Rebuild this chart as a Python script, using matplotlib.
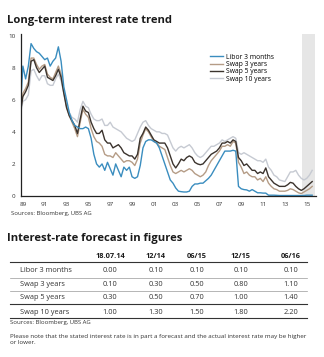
import numpy as np
import matplotlib
matplotlib.use("Agg")
import matplotlib.pyplot as plt
from matplotlib.lines import Line2D

plt.rcParams['font.family'] = ['Open Sans', 'DejaVu Sans']

# quarterly grid, 1988.75 .. 2015.5
years = np.arange(1988.75, 2015.51, 0.25)

libor_3m = [5.2,
    8.1, 7.3, 8.1, 9.5,   9.2, 9.0, 8.9, 8.7,   8.5, 8.6, 8.1, 8.4,   8.6, 9.3, 8.4, 6.8,
    6.0, 5.2, 4.7, 4.4,   4.3, 4.2, 4.2, 4.3,   4.2, 3.6, 2.6, 2.0,   1.8, 2.0, 1.6, 2.1,
    1.7, 1.3, 2.0, 1.6,   1.2, 1.8, 1.6, 1.8,   1.2, 1.1, 1.2, 1.9,   3.0, 3.4, 3.5, 3.5,
    3.4, 3.3, 3.0, 2.5,   2.0, 1.5, 1.0, 0.8,   0.5, 0.3, 0.27, 0.25, 0.25, 0.3, 0.6, 0.75,
    0.75, 0.8, 0.8, 0.95, 1.1, 1.3, 1.6, 1.9,   2.2, 2.5, 2.8, 2.8,   2.8, 2.85, 2.8, 0.6,
    0.45, 0.4, 0.38, 0.3, 0.4, 0.3, 0.2, 0.2,   0.18, 0.18, 0.05, 0.05, 0.05, 0.04, 0.03, 0.03,
    0.03, 0.03, 0.03, 0.03, 0.03, 0.03, 0.03, 0.03, 0.05, 0.05, 0.05]

swap_3y = [5.2,
    6.4, 6.7, 7.1, 8.6,   8.6, 8.2, 7.9, 8.1,   8.2, 7.6, 7.4, 7.3,   7.7, 8.1, 7.6, 6.6,
    5.6, 5.0, 4.6, 4.2,   3.7, 4.6, 5.4, 5.1,   4.9, 4.2, 3.7, 3.4,   3.3, 3.1, 2.6, 2.5,
    2.5, 2.4, 2.7, 2.5,   2.3, 2.1, 2.2, 2.2,   2.1, 1.9, 2.3, 3.3,   3.8, 4.2, 4.0, 3.7,
    3.4, 3.3, 3.1, 3.0,   2.9, 2.4, 1.9, 1.5,   1.4, 1.5, 1.6, 1.5,   1.6, 1.7, 1.6, 1.4,
    1.3, 1.2, 1.3, 1.5,   1.9, 2.2, 2.4, 2.6,   2.8, 3.1, 3.1, 3.2,   3.1, 3.4, 3.3, 2.1,
    1.8, 1.4, 1.5, 1.3,   1.2, 1.2, 1.0, 1.1,   0.9, 1.2, 0.8, 0.6,   0.45, 0.4, 0.3, 0.3,
    0.3, 0.35, 0.45, 0.4, 0.3, 0.2, 0.15, 0.25, 0.35, 0.45, 0.6]

swap_5y = [5.1,
    6.2, 6.5, 6.9, 8.4,   8.5, 8.0, 7.7, 7.9,   8.1, 7.4, 7.3, 7.2,   7.5, 7.9, 7.4, 6.4,
    5.5, 5.0, 4.7, 4.4,   3.9, 4.8, 5.6, 5.3,   5.2, 4.6, 4.2, 3.9,   3.9, 4.1, 3.5, 3.3,
    3.3, 3.0, 3.1, 3.2,   3.0, 2.7, 2.6, 2.5,   2.5, 2.3, 2.6, 3.6,   3.9, 4.3, 4.1, 3.8,
    3.5, 3.4, 3.3, 3.3,   3.3, 3.0, 2.5, 2.0,   1.75, 2.0, 2.3, 2.2,  2.4, 2.5, 2.4, 2.1,
    2.0, 1.95, 2.0, 2.2,  2.4, 2.6, 2.7, 2.8,   3.0, 3.3, 3.3, 3.4,   3.3, 3.5, 3.4, 2.4,
    2.2, 1.9, 2.0, 1.8,   1.6, 1.6, 1.4, 1.5,   1.4, 1.75, 1.2, 1.0,  0.8, 0.7, 0.6, 0.6,
    0.6, 0.7, 0.85, 0.8,  0.6, 0.45, 0.35, 0.45, 0.6, 0.75, 0.9]

swap_10y = [5.0,
    5.9, 6.0, 6.3, 7.8,   7.9, 7.5, 7.2, 7.5,   7.5, 7.0, 6.9, 6.9,   7.3, 7.6, 7.2, 6.4,
    5.6, 5.2, 4.9, 4.8,   4.6, 5.4, 5.9, 5.6,   5.5, 5.1, 4.8, 4.7,   4.7, 4.8, 4.4, 4.4,
    4.6, 4.3, 4.2, 4.1,   4.0, 3.8, 3.6, 3.5,   3.4, 3.5, 3.9, 4.3,   4.6, 4.7, 4.4, 4.2,
    4.1, 4.0, 4.0, 3.9,   3.9, 3.8, 3.4, 3.0,   2.8, 3.0, 3.1, 3.0,   3.1, 3.2, 3.0, 2.7,
    2.5, 2.4, 2.5, 2.7,   2.9, 3.1, 3.1, 3.2,   3.3, 3.5, 3.4, 3.5,   3.6, 3.7, 3.6, 2.7,
    2.6, 2.7, 2.6, 2.5,   2.4, 2.3, 2.2, 2.2,   2.1, 2.3, 1.8, 1.6,   1.3, 1.2, 1.0, 0.95,
    0.9, 1.2, 1.5, 1.5,   1.6, 1.3, 1.1, 1.0,   1.1, 1.3, 1.6]

series_names = ["Libor 3 months", "Swap 3 years", "Swap 5 years", "Swap 10 years"]
series_colors = ["#3a8dbf", "#b59c86", "#3b332d", "#c6cad2"]

x_ticks = list(range(1989, 2016, 2))
x_labels = ["%02d" % (y % 100) for y in x_ticks]

# forecast table
col_heads = ["18.07.14", "12/14", "06/15", "12/15", "06/16"]
forecast = [
    ["0.00", "0.10", "0.10", "0.10", "0.10"],
    ["0.10", "0.30", "0.50", "0.80", "1.10"],
    ["0.30", "0.50", "0.70", "1.00", "1.40"],
    ["1.00", "1.30", "1.50", "1.80", "2.20"],
]

W, H = 324, 357
fig = plt.figure(figsize=(W / 100, H / 100), dpi=100)

def fx(px):
    return px / W

def fy(py):
    return 1 - py / H

fig.text(fx(7), fy(23), "Long-term interest rate trend", fontsize=8.1,
         fontweight="bold", color="#1a1a1a", va="baseline")

ax = fig.add_axes([fx(20.7), fy(196), fx(316) - fx(20.7), fy(34) - fy(196)])
ax.axvspan(2014.6, 2015.75, color="#e6e6e6", lw=0)
order = [3, 1, 2, 0]
for i in order:
    vals = [libor_3m, swap_3y, swap_5y, swap_10y][i]
    ax.plot(years, vals, color=series_colors[i], lw=1.0, label=series_names[i],
            solid_joinstyle="round")
ax.set_xlim(1988.8, 2015.85)
ax.set_ylim(0, 10.1)
ax.set_xticks(x_ticks)
ax.set_xticklabels(x_labels)
ax.set_yticks([0, 2, 4, 6, 8, 10])
ax.tick_params(length=0, labelsize=4.5, colors="#333333", pad=4)
for s in ["top", "right"]:
    ax.spines[s].set_visible(False)
for s in ["left", "bottom"]:
    ax.spines[s].set_color("#222222")
    ax.spines[s].set_linewidth(0.9)

handles = [Line2D([], [], color=c, lw=1.0) for c in series_colors]
ax.legend(handles, series_names, loc="upper left", bbox_to_anchor=(0.63, 0.9),
          frameon=False, fontsize=4.9, handlelength=1.9, handletextpad=0.5,
          labelspacing=0.05, borderpad=0)

fig.text(fx(11), fy(213), "Sources: Bloomberg, UBS AG", fontsize=4.3,
         color="#333333", va="center")

# table section
fig.text(fx(7), fy(241), "Interest-rate forecast in figures", fontsize=8.1,
         fontweight="bold", color="#1a1a1a", va="baseline")

col_x = [110, 156, 197, 241, 290.7]
row_y = [270.7, 284.5, 297.5, 312.0]
for cx, head in zip(col_x, col_heads):
    fig.text(fx(cx), fy(256.5), head, fontsize=5.3, fontweight="bold",
             color="#1a1a1a", ha="center", va="center")
for ry, name, vals in zip(row_y, series_names, forecast):
    fig.text(fx(20), fy(ry), name, fontsize=5.3, color="#333333", va="center")
    for cx, v in zip(col_x, vals):
        fig.text(fx(cx), fy(ry), v, fontsize=5.3, color="#333333",
                 ha="center", va="center")

for ly, c, w in [(261.7, "#333333", 0.8), (277.7, "#999999", 0.5),
                 (291.0, "#999999", 0.5), (303.5, "#333333", 0.8),
                 (317.5, "#333333", 0.8)]:
    fig.add_artist(Line2D([fx(10), fx(307)], [fy(ly), fy(ly)], color=c, lw=w))

fig.text(fx(10), fy(322.7), "Sources: Bloomberg, UBS AG", fontsize=4.3,
         color="#333333", va="center")
fig.text(fx(10), fy(336.7),
         "Please note that the stated interest rate is in part a forecast and the actual interest rate may be higher",
         fontsize=4.5, color="#333333", va="center")
fig.text(fx(10), fy(342.5), "or lower.", fontsize=4.5, color="#333333", va="center")

fig.savefig("out.png", dpi=100)
